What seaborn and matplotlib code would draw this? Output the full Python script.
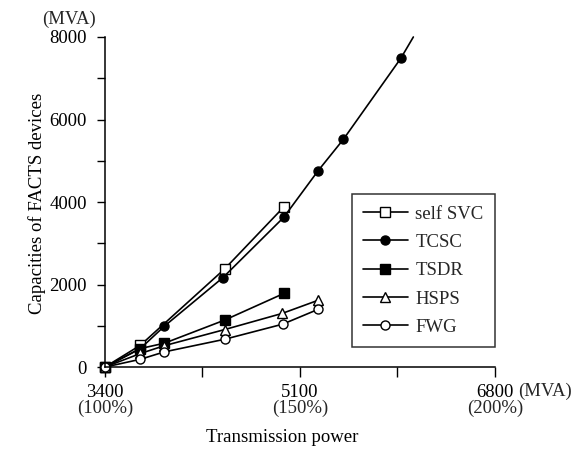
import numpy as np
import pandas as pd
import matplotlib
matplotlib.use("Agg")
import matplotlib.pyplot as plt
import matplotlib.transforms as mtransforms
import seaborn as sns

# ---- data ----
svc_x = [3400, 3710, 4445, 4960]
svc_y = [0, 530, 2380, 3880]

tcsc_x = [3400, 3710, 3920, 4430, 4960, 5260, 5480, 5980, 6090]
tcsc_y = [0, 450, 994, 2170, 3630, 4760, 5520, 7480, 8000]

tsdr_x = [3400, 3710, 3920, 4445, 4965]
tsdr_y = [0, 450, 580, 1140, 1790]

hsps_x = [3400, 3710, 3920, 4445, 4945, 5260]
hsps_y = [0, 330, 520, 910, 1300, 1620]

fwg_x = [3400, 3710, 3920, 4445, 4950, 5260]
fwg_y = [0, 190, 370, 675, 1040, 1400]

x_ticks = [3400, 4250, 5100, 5950, 6800]
x_ticklabels = ["3400", "", "5100", "", "6800"]
pct_pos = [3400, 5100, 6800]
pct_labels = ["(100%)", "(150%)", "(200%)"]
y_ticks = [0, 1000, 2000, 3000, 4000, 5000, 6000, 7000, 8000]
y_ticklabels = ["0", "", "2000", "", "4000", "", "6000", "", "8000"]

sns.set_theme(style="white")
plt.rcParams['font.family'] = ['Liberation Serif', 'DejaVu Serif']

FS = 13.5

fig = plt.figure(figsize=(5.76, 4.51), dpi=100)
ax = fig.add_axes([0.182, 0.186, 0.677, 0.732])

series = [
    ("self SVC", svc_x, svc_y, "s", "white"),
    ("TCSC", tcsc_x, tcsc_y, "o", "black"),
    ("TSDR", tsdr_x, tsdr_y, "s", "black"),
    ("HSPS", hsps_x, hsps_y, "^", "white"),
    ("FWG", fwg_x, fwg_y, "o", "white"),
]

for name, xs, ys, mk, fc in series:
    df = pd.DataFrame({"x": xs, "y": ys})
    kw = {}
    if name == "TCSC":
        kw["markevery"] = list(range(len(xs) - 1))
    sns.lineplot(data=df, x="x", y="y", ax=ax, color="black", linewidth=1.2,
                 marker=mk, markersize=6.5 if mk != "^" else 7,
                 markerfacecolor=fc, markeredgecolor="black", markeredgewidth=1.0,
                 label=name, clip_on=False, **kw)

ax.set_xlim(3400, 6800)
ax.set_ylim(0, 8000)
ax.set_xticks(x_ticks)
ax.set_xticklabels(x_ticklabels, fontsize=FS)
ax.set_yticks(y_ticks)
ax.set_yticklabels(y_ticklabels, fontsize=FS)
ax.tick_params(axis="x", direction="out", length=7, width=1, pad=5, colors="black")
ax.tick_params(axis="y", direction="out", length=6, width=1, pad=7, colors="black")
ax.tick_params(bottom=True, left=True)

# percentage labels under the x tick labels
trans = mtransforms.blended_transform_factory(ax.transData, fig.transFigure)
for p, lab in zip(pct_pos, pct_labels):
    ax.text(p, 1 - 408 / 451, lab, transform=trans, fontsize=FS,
            ha="center", va="center", clip_on=False)

for s in ["top", "right"]:
    ax.spines[s].set_visible(False)
for s in ["left", "bottom"]:
    ax.spines[s].set_color("black")
    ax.spines[s].set_linewidth(1.1)

ax.set_xlabel("Transmission power", fontsize=FS, color="black")
ax.xaxis.set_label_coords(0.49, 1 - 438 / 451, transform=fig.transFigure)
ax.xaxis.label.set_va("center")
ax.set_ylabel("Capacities of FACTS devices", fontsize=FS, color="black")
ax.yaxis.set_label_coords(37 / 576, 0.55, transform=fig.transFigure)
ax.yaxis.label.set_va("center")

fig.text(69 / 576, 1 - 19 / 451, "(MVA)", fontsize=FS, ha="center", va="center")
fig.text(518 / 576, 1 - 391 / 451, "(MVA)", fontsize=FS, ha="left", va="center")

leg = ax.legend(loc="lower right", bbox_to_anchor=(1.0, 0.06), frameon=True,
                fancybox=False, edgecolor="black", fontsize=FS,
                handlelength=2.4, handletextpad=0.4, labelspacing=0.6,
                borderpad=0.6, borderaxespad=0.0)
leg.get_frame().set_linewidth(1.1)

fig.savefig("out.png", dpi=100, facecolor="white")
